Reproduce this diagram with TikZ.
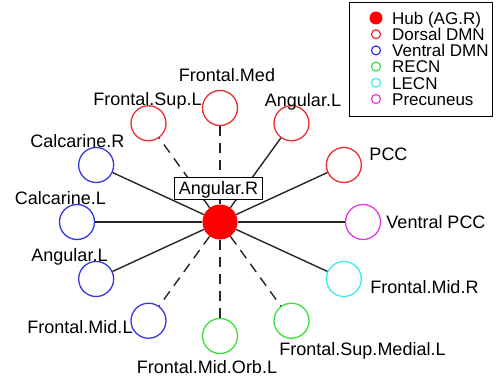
\documentclass[tikz,border=0pt]{standalone}
\usepackage{fontspec}
\setmainfont{Liberation Sans}
\usepackage{tikz}
\usetikzlibrary{positioning}
\definecolor{hubred}{RGB}{255, 0, 0}
\definecolor{dmnred}{RGB}{235, 45, 45}
\definecolor{dmnblue}{RGB}{55, 55, 225}
\definecolor{ecngreen}{RGB}{60, 225, 60}
\definecolor{ecncyan}{RGB}{60, 235, 235}
\definecolor{precmag}{RGB}{225, 60, 225}
\tikzset{
    roinode/.style={circle, draw, line width=1.3pt, minimum size=35pt, inner sep=0pt},
    hubnode/.style={circle, fill=hubred, minimum size=35pt, inner sep=0pt},
    roilabel/.style={font=\fontsize{18}{20}\selectfont, text height=13pt, text depth=0pt, inner sep=0pt},
    link/.style={line width=1.4pt, black!85},
    weaklink/.style={link, dash pattern=on 10pt off 7pt},
    legmark/.style={circle, draw, line width=1.2pt, minimum size=9pt, inner sep=0pt},
    legtext/.style={font=\fontsize{17}{19}\selectfont, anchor=west, text height=12.5pt, text depth=0pt, inner sep=0pt}
}

\begin{document}
\begin{tikzpicture}[x=1pt, y=1pt]
    \useasboundingbox (-220,-156) rectangle (276,222);
    \node[hubnode] (hub) at (0,0) {};
    % regions on an ellipse round the hub
    \foreach \ang/\id/\col/\lnk/\lx/\ly/\txt in {
        0/vpcc/precmag/link/216/0/Ventral PCC,
        30/pcc/dmnred/link/168.5/68/PCC,
        60/angr/dmnred/link/83/122/Angular.L,
        90/fmed/dmnred/weaklink/7/147/Frontal.Med,
        120/fsupl/dmnred/weaklink/-72.5/123/Frontal.Sup.L,
        150/calr/dmnblue/link/-142.5/81/Calcarine.R,
        180/call/dmnblue/link/-159.5/24/Calcarine.L,
        210/angl/dmnblue/link/-150.5/-33/Angular.L,
        240/fmidl/dmnblue/weaklink/-140/-105/Frontal.Mid.L,
        270/fmorb/ecngreen/weaklink/-13/-145/Frontal.Mid.Orb.L,
        300/fsmed/ecngreen/weaklink/142.5/-127/Frontal.Sup.Medial.L,
        330/fmidr/ecncyan/link/204.5/-65/Frontal.Mid.R}{
        \node[roinode, draw=\col] (\id) at (\ang:143 and 114) {};
        \node[roilabel] (\id-lbl) at (\lx,\ly) {\txt};
        \draw[\lnk] (hub) -- (\id);
    }
    \node[roilabel, draw, fill=white, line width=0.8pt, inner sep=4.5pt] (hublbl) at (-1.5,34) {Angular.R};
    % legend
    \draw[line width=0.8pt] (129,106) rectangle (272,220);
    \node[circle, fill=hubred, minimum size=13pt, inner sep=0pt] (leghub) at (156,204) {};
    \node[legtext] (leghub-txt) at (172,204) {Hub (AG.R)};
    \foreach \i/\col/\txt in {1/dmnred/Dorsal DMN, 2/dmnblue/Ventral DMN, 3/ecngreen/RECN, 4/ecncyan/LECN, 5/precmag/Precuneus}{
        \node[legmark, draw=\col] (leg\i) at (156,204-16.2*\i) {};
        \node[legtext] (leg\i-txt) at (172,204-16.2*\i) {\txt};
    }
\end{tikzpicture}
\end{document}
